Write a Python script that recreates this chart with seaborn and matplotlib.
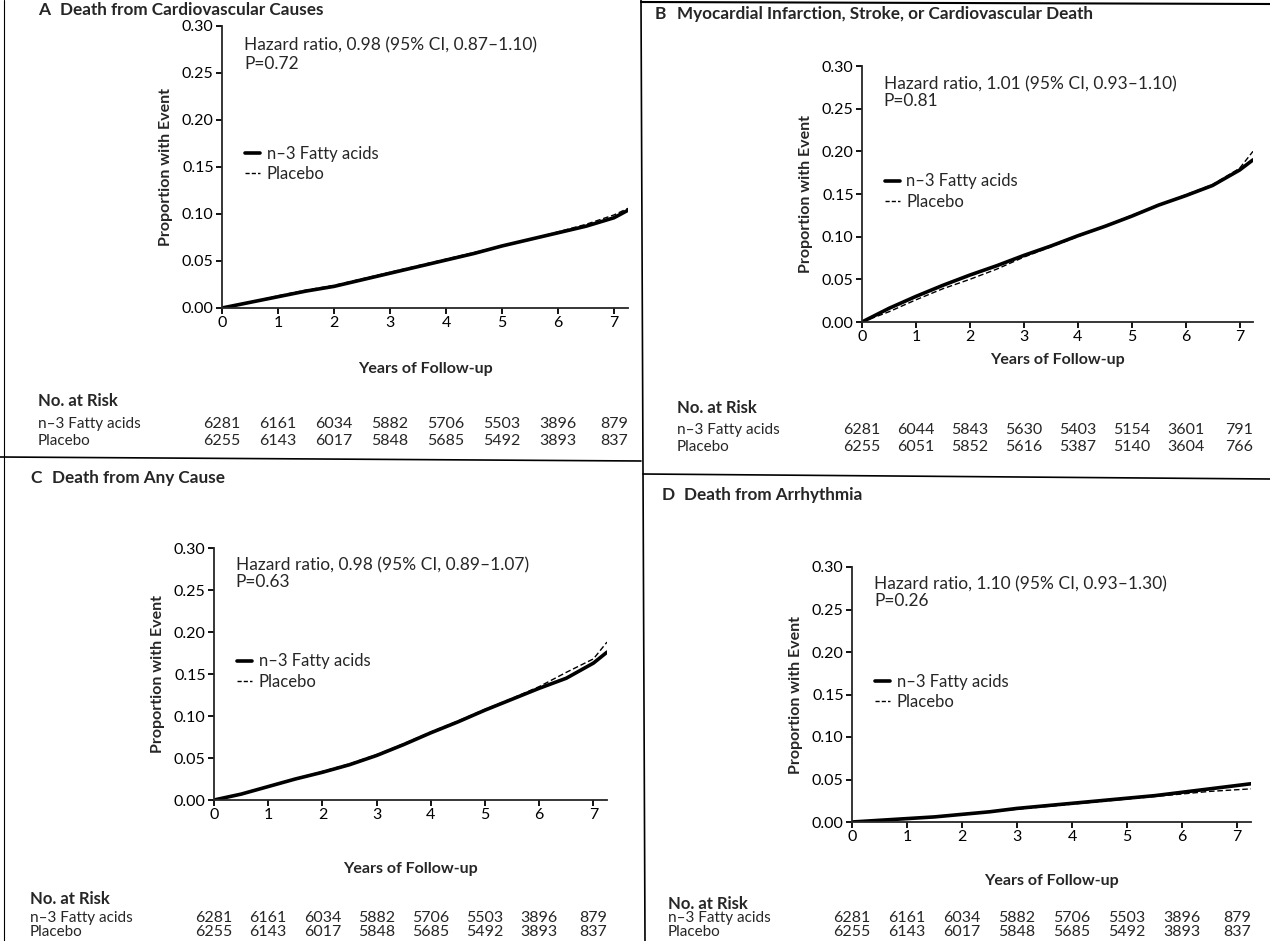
import matplotlib
matplotlib.use("Agg")
import matplotlib.pyplot as plt
import matplotlib.transforms as mtransforms
from matplotlib.lines import Line2D
import pandas as pd
import seaborn as sns

# --- data ---
TIMES = [0, 0.5, 1, 1.5, 2, 2.5, 3, 3.5, 4, 4.5, 5, 5.5, 6, 6.5, 7, 7.25]

a_n3 = [0, .006, .012, .018, .023, .030, .037, .044, .051, .058, .066, .073, .080, .087, .096, .104]
a_pl = [0, .006, .013, .019, .024, .031, .038, .045, .052, .059, .066, .073, .081, .089, .099, .106]

b_n3 = [0, .016, .030, .043, .055, .066, .078, .089, .101, .112, .124, .137, .148, .160, .178, .190]
b_pl = [0, .012, .026, .039, .050, .062, .076, .088, .100, .112, .125, .137, .149, .161, .180, .200]

c_n3 = [0, .007, .016, .025, .033, .042, .053, .066, .080, .093, .107, .120, .133, .145, .163, .176]
c_pl = [0, .007, .016, .025, .034, .043, .054, .067, .081, .094, .108, .121, .135, .152, .168, .188]

d_n3 = [0, .002, .004, .006, .009, .012, .016, .019, .022, .025, .028, .031, .035, .039, .043, .045]
d_pl = [0, .002, .004, .006, .009, .012, .015, .018, .021, .024, .027, .030, .033, .036, .038, .039]

RISK_YEARS = [0, 1, 2, 3, 4, 5, 6, 7]
risk_a_n3 = [6281, 6161, 6034, 5882, 5706, 5503, 3896, 879]
risk_a_pl = [6255, 6143, 6017, 5848, 5685, 5492, 3893, 837]
risk_b_n3 = [6281, 6044, 5843, 5630, 5403, 5154, 3601, 791]
risk_b_pl = [6255, 6051, 5852, 5616, 5387, 5140, 3604, 766]

titles = ["Death from Cardiovascular Causes",
          "Myocardial Infarction, Stroke, or Cardiovascular Death",
          "Death from Any Cause",
          "Death from Arrhythmia"]
letters = ["A", "B", "C", "D"]
hr_text = ["Hazard ratio, 0.98 (95% CI, 0.87\u20131.10)",
           "Hazard ratio, 1.01 (95% CI, 0.93\u20131.10)",
           "Hazard ratio, 0.98 (95% CI, 0.89\u20131.07)",
           "Hazard ratio, 1.10 (95% CI, 0.93\u20131.30)"]
p_text = ["P=0.72", "P=0.81", "P=0.63", "P=0.26"]

W, H = 1270, 941

sns.set_theme(style="ticks")
plt.rcParams.update({
    "font.family": ["Lato", "Liberation Sans", "DejaVu Sans"],
    "font.size": 11,
    "axes.linewidth": 1.3,
    "xtick.major.width": 1.3,
    "ytick.major.width": 1.3,
    "xtick.major.size": 4,
    "ytick.major.size": 4,
})

fig = plt.figure(figsize=(W / 100, H / 100), dpi=100)
fig.patch.set_facecolor("white")


def fx(px):
    return px / W


def fy(py):
    return 1 - py / H


# pixel layout of each panel: axes left/right(at 7.25)/top/bottom, title pos, risk table pos
panels = [
    dict(ax=(222, 628, 26, 308), title=(38, 10), xlab=362, risk=(38, 401, 424, 441),
         n3=a_n3, pl=a_pl, rn=risk_a_n3, rp=risk_a_pl),
    dict(ax=(862, 1253, 66, 322), title=(655, 14), xlab=353, risk=(677, 408, 430, 447),
         n3=b_n3, pl=b_pl, rn=risk_b_n3, rp=risk_b_pl),
    dict(ax=(214, 607, 548, 800), title=(30, 478), xlab=862, risk=(30, 899, 918, 932),
         n3=c_n3, pl=c_pl, rn=risk_a_n3, rp=risk_a_pl),
    dict(ax=(852, 1251, 567, 822), title=(662, 495), xlab=874, risk=(668, 904, 918, 932),
         n3=d_n3, pl=d_pl, rn=risk_a_n3, rp=risk_a_pl),
]

for i, p in enumerate(panels):
    l, r, t, b = p["ax"]
    ax = fig.add_axes([fx(l), fy(b), fx(r - l), (b - t) / H])

    df = pd.DataFrame({"time": TIMES * 2,
                       "prop": p["n3"] + p["pl"],
                       "group": ["n\u20133 Fatty acids"] * len(TIMES) + ["Placebo"] * len(TIMES)})
    sns.lineplot(data=df[df.group == "Placebo"], x="time", y="prop", ax=ax,
                 color="black", linewidth=1.0, linestyle=(0, (4, 2)), legend=False)
    sns.lineplot(data=df[df.group != "Placebo"], x="time", y="prop", ax=ax,
                 color="black", linewidth=2.6, legend=False)

    ax.set_xlim(0, 7.25)
    ax.set_ylim(0, 0.30)
    ax.set_xticks(range(8))
    ax.set_yticks([0, 0.05, 0.10, 0.15, 0.20, 0.25, 0.30])
    ax.set_yticklabels(["0.00", "0.05", "0.10", "0.15", "0.20", "0.25", "0.30"])
    ax.tick_params(labelsize=11.5, colors="black", pad=2)
    sns.despine(ax=ax)
    ax.set_xlabel("Years of Follow-up", fontsize=11.5, fontweight="bold")
    ax.set_ylabel("Proportion with Event", fontsize=11.5, fontweight="bold", labelpad=6)
    ax.xaxis.set_label_coords(0.5, -(p["xlab"] - b) / (b - t))

    ax.text(0.055, 0.93, hr_text[i], transform=ax.transAxes, fontsize=12.5, va="center")
    ax.text(0.055, 0.865, p_text[i], transform=ax.transAxes, fontsize=12.5, va="center")

    handles = [Line2D([], [], color="black", lw=2.6),
               Line2D([], [], color="black", lw=1.0, linestyle=(0, (3, 1.5)))]
    ax.legend(handles, ["n\u20133 Fatty acids", "Placebo"], loc="center left",
              bbox_to_anchor=(0.02, 0.51), frameon=False, handlelength=0.9,
              handletextpad=0.4, labelspacing=0.25, fontsize=12)

    tx, ty = p["title"]
    fig.text(fx(tx), fy(ty), letters[i], fontsize=12.5, fontweight="bold", va="center")
    fig.text(fx(tx + 22), fy(ty), titles[i], fontsize=12.3, fontweight="bold", va="center")

    rx, ry0, ry1, ry2 = p["risk"]
    fig.text(fx(rx), fy(ry0), "No. at Risk", fontsize=12, fontweight="bold", va="center")
    fig.text(fx(rx), fy(ry1), "n\u20133 Fatty acids", fontsize=11, va="center")
    fig.text(fx(rx), fy(ry2), "Placebo", fontsize=11, va="center")
    trans = mtransforms.blended_transform_factory(ax.transData, fig.transFigure)
    for yr, vn, vp in zip(RISK_YEARS, p["rn"], p["rp"]):
        ax.text(yr, fy(ry1), str(vn), transform=trans, ha="center", va="center",
                fontsize=11.5, clip_on=False)
        ax.text(yr, fy(ry2), str(vp), transform=trans, ha="center", va="center",
                fontsize=11.5, clip_on=False)

# panel dividers and scan border
fig.add_artist(Line2D([fx(641), fx(645)], [fy(0), fy(941)], color="black", lw=1.2))
fig.add_artist(Line2D([fx(0), fx(641)], [fy(457), fy(461)], color="black", lw=1.2))
fig.add_artist(Line2D([fx(643), fx(1270)], [fy(474), fy(479)], color="black", lw=1.2))
fig.add_artist(Line2D([fx(4), fx(4)], [fy(0), fy(941)], color="black", lw=0.8))
fig.add_artist(Line2D([fx(641), fx(1270)], [fy(2), fy(4)], color="black", lw=1.5))

fig.savefig("out.png", dpi=100, facecolor="white")
